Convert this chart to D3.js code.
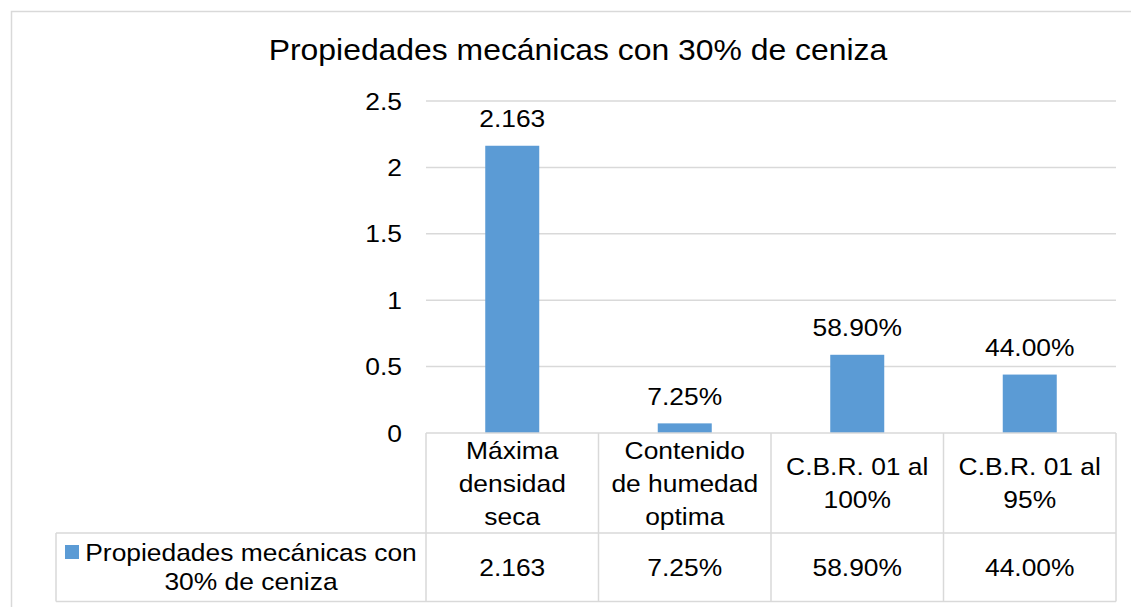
<!DOCTYPE html>
<html>
<head>
<meta charset="utf-8">
<script src="https://cdn.jsdelivr.net/npm/d3@7"></script>
<style>
  body { margin: 0; background: #fff; }
  text { font-family: "Liberation Sans", Arial, sans-serif; fill: #000; }
</style>
</head>
<body>
<div id="wrapper"></div>
<script>
// data
var categories = [
  ["Máxima", "densidad", "seca"],
  ["Contenido", "de humedad", "optima"],
  ["C.B.R. 01 al", "100%"],
  ["C.B.R. 01 al", "95%"]
];
var values = [2.163, 0.0725, 0.589, 0.44];
var valueLabels = ["2.163", "7.25%", "58.90%", "44.00%"];
var yTicks = [0, 0.5, 1, 1.5, 2, 2.5];
var seriesName = ["Propiedades mecánicas con", "30% de ceniza"];
var chartTitle = "Propiedades mecánicas con 30% de ceniza";

var width = 1131, height = 607;
var barColor = "#5b9bd5";
var lineColor = "#d9d9d9";
var stretch = 1.1; // the source text is a bit wider than plain Arial
var fs = 24;

var svg = d3.select("#wrapper").append("svg")
    .attr("width", width)
    .attr("height", height);

// put a (horizontally stretched) label at x,y
function label(parent, px, py, anchor, size, lines, lh) {
    var g = parent.append("g")
        .attr("transform", "translate(" + px + "," + py + ") scale(" + stretch + ",1)");
    var t = g.append("text")
        .attr("text-anchor", anchor)
        .style("font-size", size + "px");
    lines.forEach(function(l, k) {
        t.append("tspan")
            .attr("x", 0)
            .attr("y", (k - (lines.length - 1) / 2) * (lh || 0))
            .attr("dy", "0.36em")
            .text(l);
    });
    return t;
}

// outer chart border (runs off the right/bottom)
svg.append("rect")
    .attr("x", 11.5).attr("y", 11.5)
    .attr("width", width).attr("height", height)
    .attr("fill", "none")
    .attr("stroke", lineColor)
    .attr("stroke-width", 1.5);

label(svg, 578, 50, "middle", 29, [chartTitle]);

var plotLeft = 426, plotRight = 1116, plotTop = 101, plotBottom = 433;

var x = d3.scaleBand()
    .domain(d3.range(categories.length))
    .range([plotLeft, plotRight])
    .paddingInner(0)
    .paddingOuter(0);

var y = d3.scaleLinear()
    .domain([0, 2.5])
    .range([plotBottom, plotTop]);

// gridlines
svg.append("g").selectAll("line")
    .data(yTicks.filter(function(d){ return d > 0; }))
    .enter().append("line")
    .attr("x1", plotLeft).attr("x2", plotRight)
    .attr("y1", function(d){ return y(d); })
    .attr("y2", function(d){ return y(d); })
    .attr("stroke", lineColor)
    .attr("stroke-width", 1.5);

// y tick labels
yTicks.forEach(function(d) {
    label(svg, 402, y(d), "end", fs, [String(d)]);
});

// bars
var barW = 54;
svg.append("g").selectAll("rect")
    .data(values)
    .enter().append("rect")
    .attr("x", function(d, i){ return x(i) + x.bandwidth() / 2 - barW / 2; })
    .attr("y", function(d){ return y(d); })
    .attr("width", barW)
    .attr("height", function(d){ return y(0) - y(d); })
    .attr("fill", barColor);

// data labels
values.forEach(function(d, i) {
    label(svg, x(i) + x.bandwidth() / 2, y(d) - 27, "middle", fs, [valueLabels[i]]);
});

// data table
var tableTop = 433, rowLine = 533, tableBottom = 601.5, legendLeft = 56;
var grid = svg.append("g")
    .attr("stroke", lineColor)
    .attr("stroke-width", 1.5);

grid.append("line").attr("x1", plotLeft).attr("x2", plotRight).attr("y1", tableTop).attr("y2", tableTop);
grid.append("line").attr("x1", legendLeft).attr("x2", plotRight).attr("y1", rowLine).attr("y2", rowLine);
grid.append("line").attr("x1", legendLeft).attr("x2", plotRight).attr("y1", tableBottom).attr("y2", tableBottom);
grid.append("line").attr("x1", legendLeft).attr("x2", legendLeft).attr("y1", rowLine).attr("y2", tableBottom);
grid.selectAll(".vline")
    .data(d3.range(categories.length + 1))
    .enter().append("line")
    .attr("x1", function(i){ return plotLeft + i * x.bandwidth(); })
    .attr("x2", function(i){ return plotLeft + i * x.bandwidth(); })
    .attr("y1", tableTop).attr("y2", tableBottom);

// category labels
categories.forEach(function(lines, i) {
    label(svg, x(i) + x.bandwidth() / 2, (tableTop + rowLine) / 2, "middle", fs, lines, 33);
});

// series row values
valueLabels.forEach(function(d, i) {
    label(svg, x(i) + x.bandwidth() / 2, (rowLine + tableBottom) / 2, "middle", fs, [d]);
});

// legend key + series name
svg.append("rect")
    .attr("x", 65).attr("y", 545)
    .attr("width", 14).attr("height", 14)
    .attr("fill", barColor);

label(svg, 251, 566.5, "middle", fs, seriesName, 29);
</script>
</body>
</html>
